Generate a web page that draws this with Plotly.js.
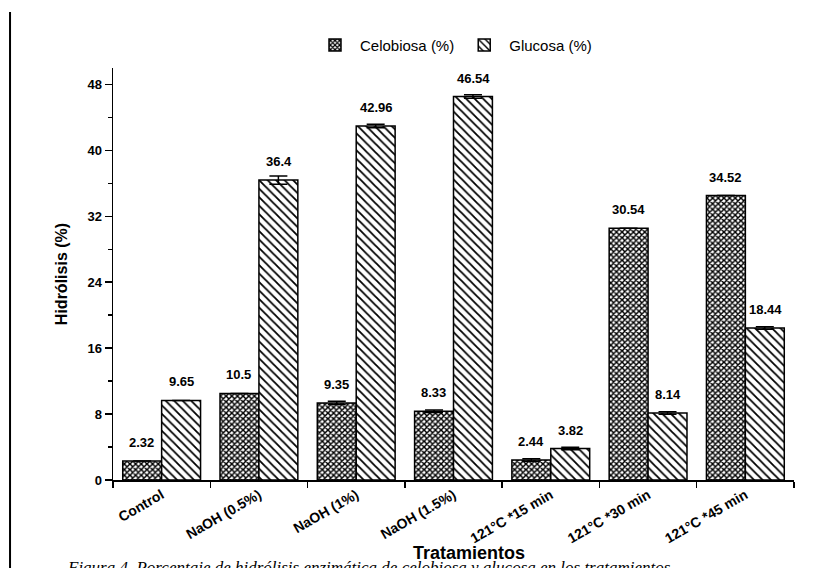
<!DOCTYPE html>
<html>
<head>
<meta charset="utf-8">
<script src="https://cdn.plot.ly/plotly-3.0.1.min.js"></script>
<style>html,body{margin:0;padding:0;background:#fff;}#chart{width:822px;height:568px;}</style>
</head>
<body>
<div id="chart"></div>
<script>
const categories = ["Control", "NaOH (0.5%)", "NaOH (1%)", "NaOH (1.5%)", "121°C *15 min", "121°C *30 min", "121°C *45 min"];
const celobiosa = [2.32, 10.5, 9.35, 8.33, 2.44, 30.54, 34.52];
const celobiosaErr = [0, 0, 0.2, 0.15, 0.15, 0, 0];
const glucosa = [9.65, 36.4, 42.96, 46.54, 3.82, 8.14, 18.44];
const glucosaErr = [0, 0.5, 0.2, 0.2, 0.15, 0.15, 0.15];
const celobiosaLabels = ["2.32", "10.5", "9.35", "8.33", "2.44", "30.54", "34.52"];
const glucosaLabels = ["9.65", "36.4", "42.96", "46.54", "3.82", "8.14", "18.44"];
const yTicks = [0, 8, 16, 24, 32, 40, 48];

const traceC = {
  type: "bar", name: "Celobiosa (%)", x: categories, y: celobiosa,
  marker: {color: "#ffffff", line: {color: "#000", width: 1.5},
           pattern: {shape: "x", size: 4, solidity: 0.6, fgcolor: "#000", bgcolor: "#fff"}},
  error_y: {type: "data", array: celobiosaErr, visible: true, color: "#000", thickness: 1.5, width: 9},
  hoverinfo: "skip"
};
const traceG = {
  type: "bar", name: "Glucosa (%)", x: categories, y: glucosa,
  marker: {color: "#ffffff", line: {color: "#000", width: 1.5},
           pattern: {shape: "\\", size: 6, solidity: 0.3, fgcolor: "#000", bgcolor: "#fff"}},
  error_y: {type: "data", array: glucosaErr, visible: true, color: "#000", thickness: 1.5, width: 9},
  hoverinfo: "skip"
};

const labelFont = {family: "Liberation Sans Narrow, Liberation Sans, Arial", size: 13, color: "#000", weight: "bold"};
const annotations = [];
categories.forEach((c, i) => {
  annotations.push({x: c, y: celobiosa[i], xref: "x", yref: "y", text: "<b>" + celobiosaLabels[i] + "</b>",
    showarrow: false, xshift: -20, yshift: 9, yanchor: "bottom", font: labelFont});
  annotations.push({x: c, y: glucosa[i], xref: "x", yref: "y", text: "<b>" + glucosaLabels[i] + "</b>",
    showarrow: false, xshift: 20, yshift: 9, yanchor: "bottom", font: labelFont});
});
annotations.push({x: 0.523, y: -0.177, xref: "paper", yref: "paper", text: "<b>Tratamientos</b>",
  showarrow: false, xanchor: "center", yanchor: "middle",
  font: {family: "Liberation Sans, Arial", size: 18, color: "#000"}});
annotations.push({x: -0.07, y: -0.184, xref: "paper", yref: "paper",
  text: "<i>Figura 4. Porcentaje de hidrólisis enzimática de celobiosa y glucosa en los tratamientos</i>",
  showarrow: false, xanchor: "left", yanchor: "top",
  font: {family: "Liberation Serif, DejaVu Serif, serif", size: 17, color: "#000"}});

const layout = {
  width: 822, height: 568,
  margin: {l: 113, r: 28, t: 68, b: 88},
  paper_bgcolor: "#fff", plot_bgcolor: "#fff",
  barmode: "group", bargap: 0.2, bargroupgap: 0,
  showlegend: true,
  legend: {orientation: "h", x: 0.5, y: 1.055, xanchor: "center", yanchor: "middle",
           font: {family: "Liberation Sans, Arial", size: 15, color: "#000"}, itemwidth: 40},
  xaxis: {
    type: "category", showline: true, linecolor: "#000", linewidth: 1.5,
    ticks: "outside", tickson: "boundaries", ticklen: 6, tickwidth: 1.5, tickcolor: "#000",
    tickangle: -30, showgrid: false, zeroline: false,
    tickfont: {family: "Liberation Sans, Arial", size: 14, color: "#000", weight: "bold"}
  },
  yaxis: {
    range: [0, 50], showline: true, linecolor: "#000", linewidth: 1.5,
    tickvals: yTicks, ticktext: yTicks.map(String),
    ticks: "outside", ticklen: 7, tickwidth: 1.5, tickcolor: "#000",
    minor: {dtick: 4, tick0: 0, ticks: "outside", ticklen: 4, tickwidth: 1.5, tickcolor: "#000", showgrid: false},
    showgrid: false, zeroline: false,
    tickfont: {family: "Liberation Sans, Arial", size: 13, color: "#000", weight: "bold"},
    title: {text: "<b>Hidrólisis (%)</b>", standoff: 16, font: {family: "Liberation Sans, Arial", size: 16, color: "#000"}}
  },
  annotations: annotations,
  shapes: [{type: "line", xref: "paper", yref: "paper", x0: -0.1512, x1: -0.1512, y0: 1.136, y1: -0.22,
            line: {color: "#000", width: 2}}]
};

Plotly.newPlot("chart", [traceC, traceG], layout, {displayModeBar: false, staticPlot: true});
</script>
</body>
</html>
